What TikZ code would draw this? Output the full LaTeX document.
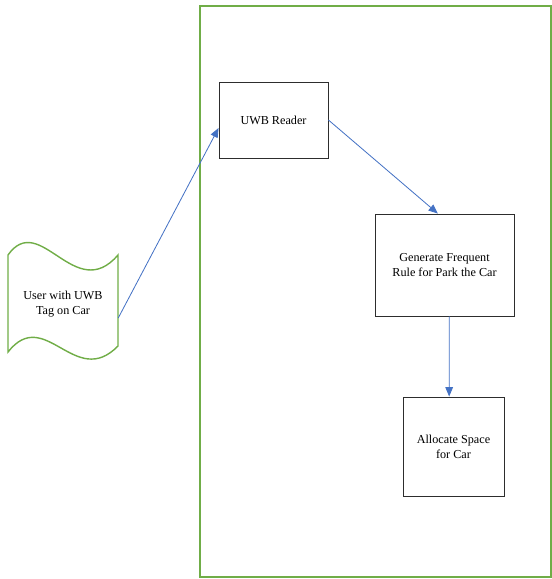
\documentclass[tikz,border=0pt]{standalone}
\usepackage{fontspec}
\setmainfont{Liberation Serif}
\usetikzlibrary{positioning}
\usetikzlibrary{arrows.meta}

\definecolor{framegreen}{RGB}{112,173,71}
\definecolor{flowblue}{RGB}{68,114,196}
\definecolor{boxgray}{RGB}{45,45,45}

\tikzset{
    stepbox/.style={draw=boxgray, line width=0.75pt, align=center,
        font=\fontsize{10.4}{13}\selectfont},
    flow/.style={draw=flowblue, line width=0.7pt,
        -{Triangle[length=8pt,width=6.5pt]}},
}

\begin{document}
\begin{tikzpicture}[x=0.03cm, y=-0.03cm]
        \useasboundingbox (0,0) rectangle (552,579);
        \draw[framegreen, line width=1.5pt] (200,6) rectangle (551,577);

        % tag on the car
        \draw[framegreen, line width=1.2pt]
            (8,255) .. controls (40,210) and (75,305) .. (118,255)
            -- (118,346) .. controls (75,390) and (45,305) .. (8,352) -- cycle;
        \node[align=center, minimum width=3.3cm,
            font=\fontsize{10.4}{13}\selectfont] (user) at (63,304)
            {User with UWB\\Tag on Car};

        \node[stepbox, minimum width=3.27cm, minimum height=2.28cm]
            (reader) at (273.5,120) {UWB Reader};
        \node[stepbox, minimum width=4.17cm, minimum height=3.06cm]
            (rule) at (444.5,265) {Generate Frequent\\Rule for Park the Car};
        \node[stepbox, minimum width=3.03cm, minimum height=2.97cm]
            (alloc) at (453.5,446.5) {Allocate Space\\for Car};

        \draw[flow] ([yshift=-0.42cm]user.east) -- ([yshift=-0.24cm]reader.west);
        \draw[flow] (reader.east) -- ([xshift=-0.2cm]rule.north);
        \draw[flow] ([xshift=0.14cm]rule.south) -- ([xshift=-0.13cm]alloc.north);
\end{tikzpicture}
\end{document}
